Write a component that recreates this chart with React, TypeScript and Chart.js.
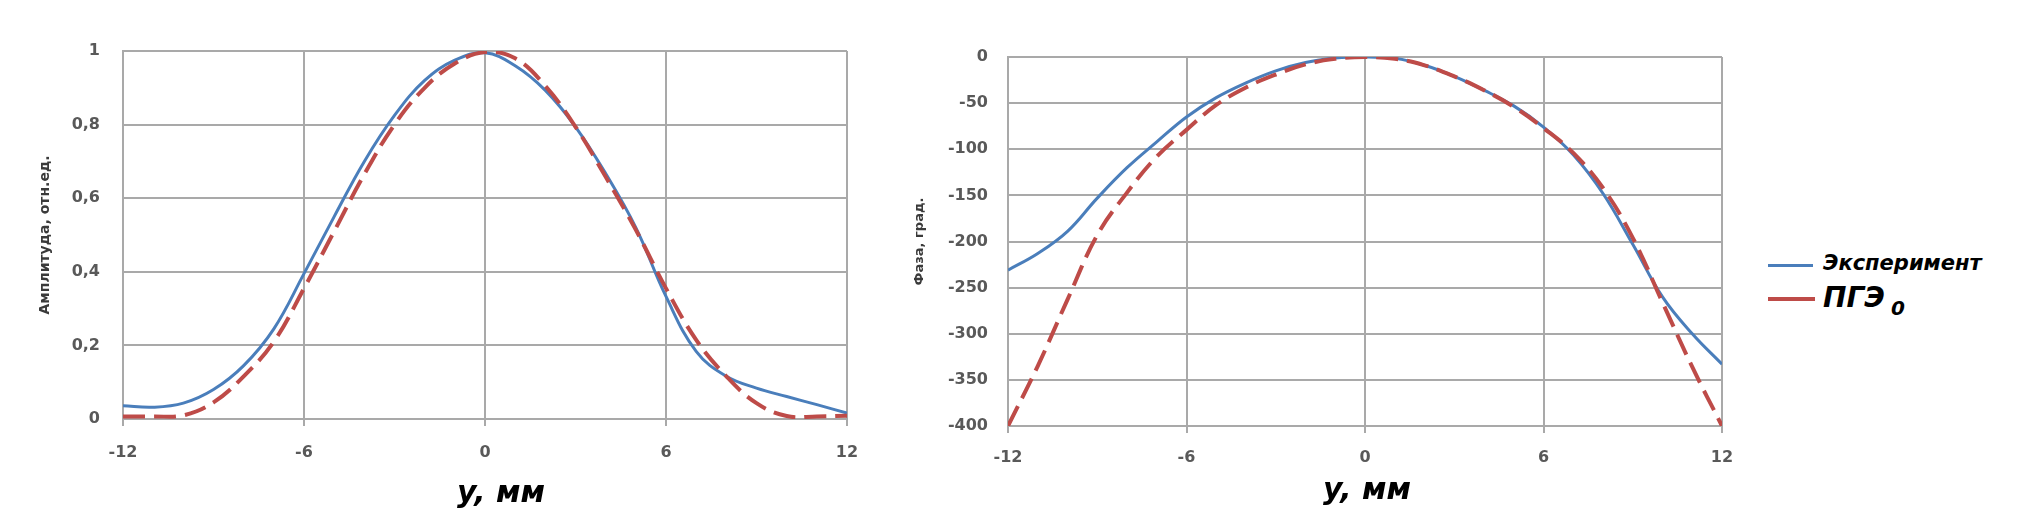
import React, { useEffect, useRef } from 'react';
import { Chart, registerables } from 'chart.js';

Chart.register(...registerables);

// ---------- data ----------
const positionsMm = [-12, -11, -10, -9, -8, -7, -6, -5, -4, -3, -2, -1, 0, 1, 2, 3, 4, 5, 6, 7, 8, 9, 10, 11, 12];

const amplitudeExperiment = [0.036, 0.032, 0.043, 0.08, 0.145, 0.245, 0.395, 0.55, 0.7, 0.825, 0.92, 0.975, 0.995, 0.96, 0.893, 0.794, 0.667, 0.52, 0.333, 0.184, 0.116, 0.084, 0.061, 0.039, 0.016];
const amplitudeTheory = [0.007, 0.007, 0.01, 0.045, 0.116, 0.21, 0.355, 0.51, 0.665, 0.8, 0.9, 0.966, 0.997, 0.98, 0.905, 0.794, 0.658, 0.514, 0.355, 0.215, 0.116, 0.043, 0.008, 0.007, 0.009];

const phaseExperiment = [-231, -213, -189, -153, -120, -92, -65, -44, -28, -15, -6, -1, 0, -1.5, -9, -21, -36, -53, -76, -106, -148, -203, -260, -300, -333];
const phaseTheory = [-400, -335, -263, -193, -147, -108, -79, -52, -33, -19, -8, -2, 0, -2, -9, -21, -36, -54, -77, -104, -142, -196, -266, -336, -400];

const xTickValues = [-12, -6, 0, 6, 12];
const amplitudeTickLabels = ['0', '0,2', '0,4', '0,6', '0,8', '1'];
const phaseTickValues = [0, -50, -100, -150, -200, -250, -300, -350, -400];

const seriesNames = ['Эксперимент', 'ПГЭ'];
const theorySubscript = '0';
const xAxisTitle = 'y, мм';
const amplitudeAxisTitle = 'Амплитуда, отн.ед.';
const phaseAxisTitle = 'Фаза, град.';

// ---------- styles ----------
const FONT = '"DejaVu Sans", "Liberation Sans", sans-serif';
const BLUE = '#4a7ebb';
const RED = '#be4b48';
const GRID = '#a9a9a9';
const TICK_COLOR = '#595959';

function points(ys: number[]) {
  return positionsMm.map((x, i) => ({ x, y: ys[i] }));
}

function datasets(exp: number[], theo: number[]) {
  return [
    {
      label: seriesNames[0],
      data: points(exp),
      borderColor: BLUE,
      borderWidth: 3,
      pointRadius: 0,
      tension: 0.4,
      fill: false,
      order: 1,
    },
    {
      label: seriesNames[1] + theorySubscript,
      data: points(theo),
      borderColor: RED,
      borderWidth: 4,
      borderDash: [22, 9],
      pointRadius: 0,
      tension: 0.4,
      fill: false,
      order: 0,
    },
  ];
}

interface AxisCfg {
  yMin: number;
  yMax: number;
  yStep: number;
  yFmt: (v: number) => string;
  yTitle: string;
  yTitleSize: number;
  yTitlePad: number;
  yAxisWidth: number;
  yTickPad: number;
  xAxisHeight: number;
  xTickPad: number;
  padTop: number;
  padRight: number;
}

function buildOptions(c: AxisCfg): any {
  return {
    responsive: false,
    animation: false,
    events: [],
    layout: { padding: { top: c.padTop, right: c.padRight, left: 0, bottom: 0 } },
    plugins: { legend: { display: false }, tooltip: { enabled: false } },
    scales: {
      x: {
        type: 'linear',
        min: xTickValues[0],
        max: xTickValues[xTickValues.length - 1],
        afterBuildTicks: (s: any) => {
          s.ticks = xTickValues.map((v) => ({ value: v }));
        },
        afterFit: (s: any) => {
          s.height = c.xAxisHeight;
        },
        ticks: {
          color: TICK_COLOR,
          font: { family: FONT, size: 16, weight: 'bold' },
          padding: c.xTickPad,
          maxRotation: 0,
          callback: (v: number) => String(v),
        },
        grid: { color: GRID, lineWidth: 2, drawTicks: true, tickLength: 7, tickColor: GRID },
        border: { color: GRID, width: 2 },
      },
      y: {
        type: 'linear',
        min: c.yMin,
        max: c.yMax,
        ticks: {
          stepSize: c.yStep,
          color: TICK_COLOR,
          font: { family: FONT, size: 16, weight: 'bold' },
          padding: c.yTickPad,
          callback: (v: number) => c.yFmt(v),
        },
        afterFit: (s: any) => {
          s.width = c.yAxisWidth;
        },
        grid: { color: GRID, lineWidth: 2, drawTicks: false },
        border: { color: GRID, width: 2 },
        title: {
          display: true,
          text: c.yTitle,
          color: '#3a3a3a',
          font: { family: FONT, size: c.yTitleSize, weight: 'bold' },
          padding: { top: c.yTitlePad, bottom: 0 },
        },
      },
    },
  };
}

const titleStyle = (cx: number, top: number, size: number): React.CSSProperties => ({
  position: 'absolute',
  left: cx,
  top,
  transform: 'translateX(-50%)',
  font: `italic bold ${size}px ${FONT}`,
  lineHeight: `${size}px`,
  whiteSpace: 'nowrap',
  color: '#000',
});

const textStyle = (left: number, top: number, size: number): React.CSSProperties => ({
  position: 'absolute',
  left,
  top,
  font: `italic bold ${size}px ${FONT}`,
  lineHeight: `${size}px`,
  whiteSpace: 'nowrap',
  color: '#000',
});

export default function App() {
  const leftRef = useRef<HTMLCanvasElement>(null);
  const rightRef = useRef<HTMLCanvasElement>(null);

  useEffect(() => {
    const left = new Chart(leftRef.current as HTMLCanvasElement, {
      type: 'line',
      data: { datasets: datasets(amplitudeExperiment, amplitudeTheory) as any },
      options: buildOptions({
        yMin: 0,
        yMax: 1,
        yStep: 0.2,
        yFmt: (v) => amplitudeTickLabels[Math.round(v / 0.2)] ?? String(v),
        yTitle: amplitudeAxisTitle,
        yTitleSize: 14,
        yTitlePad: 37,
        yAxisWidth: 123,
        yTickPad: 23,
        xAxisHeight: 107,
        xTickPad: 17,
        padTop: 51,
        padRight: 53,
      }),
    });
    const right = new Chart(rightRef.current as HTMLCanvasElement, {
      type: 'line',
      data: { datasets: datasets(phaseExperiment, phaseTheory) as any },
      options: buildOptions({
        yMin: phaseTickValues[phaseTickValues.length - 1],
        yMax: phaseTickValues[0],
        yStep: 50,
        yFmt: (v) => String(v),
        yTitle: phaseAxisTitle,
        yTitleSize: 13,
        yTitlePad: 12,
        yAxisWidth: 108,
        yTickPad: 20,
        xAxisHeight: 100,
        xTickPad: 15,
        padTop: 57,
        padRight: 38,
      }),
    });
    return () => {
      left.destroy();
      right.destroy();
    };
  }, []);

  return (
    <div style={{ position: 'absolute', left: 0, top: 0, width: 2031, height: 526, background: '#fff', overflow: 'hidden' }}>
      <canvas ref={leftRef} width={900} height={526} style={{ position: 'absolute', left: 0, top: 0 }} />
      <canvas ref={rightRef} width={860} height={526} style={{ position: 'absolute', left: 900, top: 0 }} />
      <div style={titleStyle(501, 477, 30)}>{xAxisTitle}</div>
      <div style={titleStyle(1367, 474, 30)}>{xAxisTitle}</div>
      <div style={{ position: 'absolute', left: 1768, top: 263.5, width: 45, height: 3, background: BLUE }} />
      <div style={textStyle(1823, 253, 21)}>{seriesNames[0]}</div>
      <div style={{ position: 'absolute', left: 1768, top: 297, width: 47, height: 4, background: RED }} />
      <div style={textStyle(1823, 284, 28)}>{seriesNames[1]}</div>
      <div style={textStyle(1891, 298, 20)}>{theorySubscript}</div>
    </div>
  );
}
